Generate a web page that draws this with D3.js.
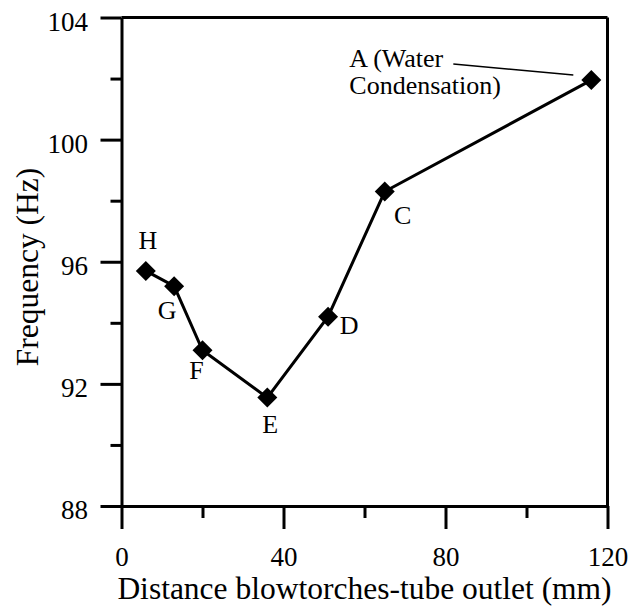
<!DOCTYPE html>
<html>
<head>
<meta charset="utf-8">
<script src="https://cdn.jsdelivr.net/npm/d3@7"></script>
<style>
  body { margin: 0; background: #fff; }
  svg text { font-family: "Liberation Serif", "DejaVu Serif", serif; fill: #000; }
</style>
</head>
<body>
<div id="chart"></div>
<script>
// data
const labels = ['H', 'G', 'F', 'E', 'D', 'C', 'A'];
const distance = [6, 13, 20, 36, 51, 65, 116];        // mm
const frequency = [95.7, 95.2, 93.1, 91.55, 94.2, 98.3, 101.95];  // Hz

const xMajorTicks = [0, 40, 80, 120];
const xMinorTicks = [20, 60, 100];
const yMajorTicks = [88, 92, 96, 100, 104];
const yMinorTicks = [90, 94, 98, 102];

const width = 628, height = 606;
const margin = {top: 17.5, right: 20.5, bottom: 100, left: 121.5};
const mwidth = width - margin.left - margin.right;
const mheight = height - margin.top - margin.bottom;

// label offsets from the marker centre (px), text centre
const labelOffset = {
    H: [2, -30], G: [-7, 24], F: [-6, 20], E: [3, 27], D: [21, 9], C: [18, 24]
};

const svg = d3.select("#chart").append("svg")
    .attr("width", width)
    .attr("height", height);

const xScale = d3.scaleLinear().domain([0, 120]).range([0, mwidth]);
const yScale = d3.scaleLinear().domain([88, 104]).range([mheight, 0]);

const g = svg.append("g")
    .attr("transform", "translate(" + margin.left + "," + margin.top + ")");

// minor ticks first
g.append("g")
    .attr("transform", "translate(0," + mheight + ")")
    .call(d3.axisBottom(xScale).tickValues(xMinorTicks).tickSize(12).tickSizeOuter(0).tickFormat(""))
    .call(ax => ax.select(".domain").remove());
g.append("g")
    .call(d3.axisLeft(yScale).tickValues(yMinorTicks).tickSize(11).tickSizeOuter(0).tickFormat(""))
    .call(ax => ax.select(".domain").remove());

const xAxis = g.append("g")
    .attr("transform", "translate(0," + mheight + ")")
    .call(d3.axisBottom(xScale).tickValues(xMajorTicks).tickSize(23).tickSizeOuter(0).tickFormat(d3.format("d")));
xAxis.selectAll("text")
    .attr("y", 59.5)
    .attr("dy", null)
    .style("font-size", "27px");

const yAxis = g.append("g")
    .call(d3.axisLeft(yScale).tickValues(yMajorTicks).tickSize(21).tickSizeOuter(0).tickFormat(d3.format("d")));
yAxis.selectAll("text")
    .attr("x", -33.5)
    .attr("dy", null)
    .attr("y", 12.5)
    .style("font-size", "27px");

g.selectAll(".tick line, .domain")
    .attr("stroke", "#000")
    .attr("stroke-width", 3);
g.selectAll(".tick text").attr("font-family", null).attr("font-size", null);

// top and right frame
g.append("line")
    .attr("x1", 0).attr("x2", mwidth).attr("y1", 0).attr("y2", 0)
    .attr("stroke", "#000").attr("stroke-width", 3);
g.append("line")
    .attr("x1", mwidth).attr("x2", mwidth).attr("y1", 0).attr("y2", mheight)
    .attr("stroke", "#000").attr("stroke-width", 3);

// data
const data = labels.map((l, i) => ({label: l, x: distance[i], y: frequency[i]}));

const line = d3.line()
    .x(d => xScale(d.x))
    .y(d => yScale(d.y));

g.append("path")
    .datum(data)
    .attr("fill", "none")
    .attr("stroke", "#000")
    .attr("stroke-width", 3)
    .attr("d", line);

g.selectAll(".marker")
    .data(data)
    .enter().append("path")
    .attr("class", "marker")
    .attr("d", d3.symbol().type(d3.symbolSquare).size(200))
    .attr("transform", d => "translate(" + xScale(d.x) + "," + yScale(d.y) + ") rotate(45)")
    .attr("fill", "#000");

// point labels
g.selectAll(".plabel")
    .data(data.filter(d => d.label !== 'A'))
    .enter().append("text")
    .attr("class", "plabel")
    .attr("x", d => xScale(d.x) + labelOffset[d.label][0])
    .attr("y", d => yScale(d.y) + labelOffset[d.label][1] + 8.5)
    .style("text-anchor", "middle")
    .style("font-size", "26px")
    .text(d => d.label);

// A label with leader line
const a = data[data.length - 1];
const ax = xScale(a.x), ay = yScale(a.y);
const aText = g.append("text")
    .style("font-size", "26px");
aText.append("tspan").attr("x", ax - 242).attr("y", ay - 13).text("A (Water");
aText.append("tspan").attr("x", ax - 242).attr("y", ay + 13.6).text("Condensation)");
g.append("line")
    .attr("x1", ax - 138).attr("y1", ay - 16)
    .attr("x2", ax - 18).attr("y2", ay - 5)
    .attr("stroke", "#000").attr("stroke-width", 1.5);

// axis titles
svg.append("text")
    .attr("x", margin.left + mwidth / 2)
    .attr("y", 598.5)
    .style("text-anchor", "middle")
    .style("font-size", "31.5px")
    .text("Distance blowtorches-tube outlet (mm)");

svg.append("text")
    .attr("transform", "translate(38,267) rotate(-90)")
    .style("text-anchor", "middle")
    .style("font-size", "31.5px")
    .text("Frequency (Hz)");
</script>
</body>
</html>
